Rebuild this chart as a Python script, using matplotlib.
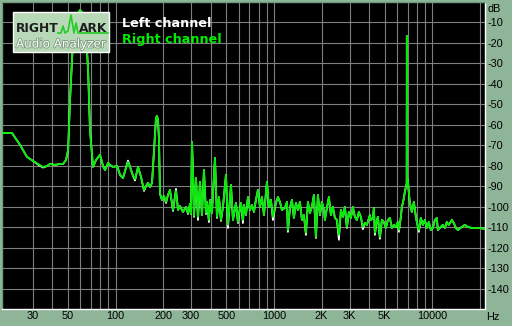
import matplotlib.pyplot as plt
from matplotlib.ticker import NullFormatter
from matplotlib.patches import Rectangle
import matplotlib.patheffects as pe

# spectrum (Hz, dB)
freq = [19.2, 22.2, 25.0, 27.6, 30.2, 32.4, 34.9, 37.0, 38.6, 41.5,
        44.7, 46.7, 48.7, 50.2, 51.6, 53.9, 56.3, 59.7, 62.4, 65.2,
        67.1, 69.0, 72.1, 75.3, 79.8, 83.4, 85.9, 89.7, 92.3, 96.4,
        102.2, 106.8, 111.5, 114.8, 119.9, 123.5, 129.0, 132.7, 138.7, 144.9,
        151.3, 155.8, 160.3, 165.1, 170.0, 175.0, 180.1, 182.7, 185.4, 188.1,
        190.9, 196.5, 202.3, 208.3, 214.4, 220.7, 230.6, 240.8, 248.0, 255.2,
        266.6, 278.5, 286.7, 295.1, 299.4, 303.8, 308.3, 312.8, 322.0, 331.5,
        341.3, 351.3, 361.7, 372.4, 377.8, 388.9, 394.6, 406.2, 424.4, 436.9,
        449.8, 463.0, 476.7, 497.9, 512.6, 535.4, 551.2, 575.8, 592.7, 610.2,
        619.1, 637.4, 646.7, 665.7, 685.5, 705.6, 726.4, 747.8, 769.8, 792.6,
        816.0, 840.0, 864.8, 890.2, 903.3, 930.0, 957.4, 985.6, 1029, 1060,
        1091, 1123, 1173, 1208, 1225, 1262, 1299, 1337, 1377, 1417,
        1459, 1502, 1546, 1592, 1639, 1687, 1737, 1788, 1841, 1895,
        1951, 2008, 2068, 2098, 2160, 2223, 2289, 2356, 2426, 2498,
        2571, 2647, 2725, 2805, 2888, 2973, 3061, 3151, 3243, 3340,
        3438, 3540, 3644, 3751, 3862, 4034, 4093, 4214, 4275, 4338,
        4466, 4532, 4665, 4803, 4944, 5089, 5239, 5395, 5553, 5717,
        5885, 6058, 6147, 6329, 6422, 6516, 6611, 6707, 6805, 6890,
        6905, 6920, 7006, 7108, 7212, 7426, 7534, 7645, 7870, 8101,
        8220, 8462, 8711, 8967, 9231, 9503, 9783, 10073, 10370, 10675,
        10831, 11150, 11648, 11993, 12346, 12710, 13273, 13664, 14070, 14485,
        15350, 16032, 16749, 17750, 18810, 19940, 21440]

right_db = [-64.0, -64.0, -69.9, -75.7, -77.7, -79.1, -80.6, -80.1, -79.1, -79.6,
            -79.1, -79.1, -77.2, -72.3, -47.9, -18.6, -7.8, -3.9, -5.9, -16.1,
            -33.2, -62.5, -80.6, -77.2, -74.7, -80.1, -82.1, -78.6, -79.6, -80.6,
            -80.1, -84.5, -86.0, -82.6, -78.2, -80.6, -85.0, -86.5, -80.6, -85.5,
            -91.8, -89.9, -88.4, -90.4, -88.4, -72.3, -56.7, -55.7, -57.6, -67.4,
            -93.3, -96.7, -94.8, -97.7, -94.3, -91.8, -101.6, -92.3, -101.6, -99.7,
            -102.6, -100.1, -103.1, -98.7, -103.6, -68.4, -82.1, -104.5, -86.0, -105.0,
            -87.9, -104.1, -82.1, -103.1, -97.7, -106.5, -96.7, -103.1, -76.2, -105.0,
            -95.3, -106.5, -100.1, -84.5, -108.9, -89.4, -106.5, -98.2, -107.5, -100.6,
            -98.2, -106.5, -99.2, -104.1, -95.3, -101.6, -99.2, -102.6, -96.7, -91.8,
            -100.1, -95.3, -104.1, -93.3, -87.9, -100.1, -96.7, -105.0, -98.2, -95.3,
            -97.7, -101.6, -100.6, -97.7, -111.4, -100.6, -96.7, -105.5, -98.2, -101.6,
            -97.7, -106.5, -104.1, -112.8, -97.7, -103.1, -100.1, -94.3, -114.8, -94.3,
            -104.1, -97.7, -101.6, -106.5, -100.6, -95.3, -104.1, -100.1, -105.5, -106.5,
            -113.8, -101.6, -105.0, -100.1, -109.9, -102.6, -105.5, -100.1, -105.0, -106.5,
            -102.6, -105.0, -109.9, -108.0, -108.9, -104.1, -106.5, -105.5, -100.6, -112.8,
            -106.5, -105.0, -114.8, -106.5, -107.5, -110.4, -106.5, -105.5, -110.4, -108.9,
            -109.9, -107.5, -111.4, -105.0, -100.1, -98.2, -95.7, -92.8, -90.4, -88.5,
            -16.6, -86.5, -87.0, -93.3, -98.2, -102.6, -100.1, -97.7, -105.0, -109.9,
            -111.4, -105.5, -108.9, -106.5, -110.4, -107.5, -111.4, -110.4, -106.5, -105.5,
            -111.4, -110.4, -108.9, -110.4, -107.5, -108.9, -106.5, -108.0, -110.4, -111.4,
            -109.9, -108.9, -109.9, -110.4, -110.4, -110.4, -110.9]

left_db = [-64.0, -64.0, -69.9, -75.7, -77.7, -79.4, -80.9, -80.1, -79.1, -79.6,
           -79.1, -79.1, -77.2, -72.3, -47.9, -18.6, -7.8, -3.9, -5.9, -16.1,
           -33.2, -62.5, -80.6, -77.2, -74.7, -80.1, -82.1, -78.6, -79.6, -80.6,
           -80.1, -84.5, -86.0, -82.6, -77.5, -80.6, -85.0, -87.2, -80.6, -85.5,
           -92.3, -89.9, -88.4, -90.4, -88.4, -72.3, -56.7, -55.7, -57.6, -67.4,
           -93.8, -96.7, -94.8, -98.2, -94.3, -91.8, -102.1, -91.3, -101.6, -99.7,
           -102.6, -100.1, -103.6, -98.7, -103.6, -68.4, -82.1, -105.0, -86.0, -106.5,
           -87.9, -104.1, -82.1, -103.6, -97.7, -107.5, -96.7, -103.1, -76.2, -105.5,
           -95.3, -107.0, -100.1, -84.5, -110.4, -89.4, -106.5, -98.2, -108.0, -100.6,
           -98.2, -108.0, -99.2, -104.1, -95.3, -101.6, -99.2, -102.6, -96.7, -91.8,
           -100.1, -95.3, -104.1, -93.3, -87.9, -100.1, -96.7, -106.5, -98.2, -95.3,
           -97.7, -101.6, -100.6, -97.7, -112.3, -100.6, -96.7, -105.5, -98.2, -101.6,
           -97.7, -106.5, -104.1, -113.8, -97.7, -103.1, -100.1, -94.3, -115.3, -94.3,
           -104.1, -97.7, -101.6, -106.5, -100.6, -95.3, -104.1, -100.1, -105.5, -106.5,
           -116.2, -101.6, -105.0, -100.1, -110.4, -102.6, -105.5, -100.1, -105.0, -106.5,
           -102.6, -105.0, -111.0, -108.0, -108.9, -104.1, -106.5, -105.5, -100.6, -113.8,
           -106.5, -105.0, -115.7, -106.5, -107.5, -110.4, -106.5, -105.5, -110.4, -108.9,
           -109.9, -107.5, -112.3, -105.0, -100.1, -98.2, -95.7, -92.8, -90.4, -88.5,
           -16.6, -86.5, -87.0, -93.3, -98.2, -102.6, -100.1, -97.7, -105.0, -109.9,
           -112.3, -105.5, -108.9, -106.5, -110.4, -107.5, -111.4, -110.4, -106.5, -105.5,
           -111.4, -110.4, -108.9, -110.4, -107.5, -108.9, -106.5, -108.0, -110.4, -111.4,
           -109.9, -108.9, -109.9, -110.4, -110.4, -110.4, -110.9]

x_ticks = [30, 50, 100, 200, 300, 500, 1000, 2000, 3000, 5000, 10000]
x_labels = ['30', '50', '100', '200', '300', '500', '1000', '2K', '3K', '5K', '10000']
x_grid = [30, 40, 50, 60, 70, 80, 90, 100, 200, 300, 400, 500, 600, 700, 800, 900,
          1000, 2000, 3000, 4000, 5000, 6000, 7000, 8000, 9000, 10000, 20000]
y_ticks = [-10, -20, -30, -40, -50, -60, -70, -80, -90, -100, -110, -120, -130, -140]

BG = '#8fb599'
GRID = '#7f7f7f'
GREEN = '#00ee00'

fig = plt.figure(figsize=(5.12, 3.26), dpi=100, facecolor=BG)
ax = fig.add_axes([2 / 512, 17 / 326, 483 / 512, 307 / 326])
ax.set_facecolor('black')

ax.plot(freq, left_db, color='white', lw=1.3, zorder=3)
ax.plot(freq, right_db, color=GREEN, lw=1.3, zorder=4)

ax.set_xscale('log')
ax.set_xlim(19.2, 21500)
ax.set_ylim(-150, 0)

ax.set_xticks(x_grid, minor=True)
ax.set_xticks(x_ticks)
ax.set_xticklabels(x_labels)
ax.xaxis.set_minor_formatter(NullFormatter())
ax.set_yticks(y_ticks)
ax.set_yticklabels([str(v) for v in y_ticks])
ax.yaxis.tick_right()
ax.tick_params(which='both', length=0)
ax.tick_params(axis='x', pad=1.5, labelsize=7.8)
ax.tick_params(axis='y', pad=1.5, labelsize=7.8)
for lab in ax.get_xticklabels() + ax.get_yticklabels():
    lab.set_fontfamily('Liberation Sans')
ax.grid(which='both', color=GRID, lw=0.8)
ax.set_axisbelow(True)

for side in ['top', 'left']:
    ax.spines[side].set_color('#6f9c7b')
for side in ['right', 'bottom']:
    ax.spines[side].set_color('white')
for s in ax.spines.values():
    s.set_linewidth(1.0)

# overlay in pixel coordinates for logo and legend text
ov = fig.add_axes([0, 0, 1, 1], facecolor='none')
ov.set_xlim(0, 512)
ov.set_ylim(326, 0)
ov.axis('off')

ov.add_patch(Rectangle((13, 12), 96, 40, fc='#b8d9b8', ec='white', lw=1.0))
ov.plot([58, 61, 63, 65, 68, 71, 74, 76, 78, 80, 108],
        [33, 33, 26, 33, 31, 15, 33, 23, 33, 33, 33], color='#22cc22', lw=1.2)
ov.text(16, 32, 'RIGHT', fontsize=8.8, fontweight='bold', color='#1e1e1e', va='baseline')
ov.text(79, 32, 'ARK', fontsize=8.8, fontweight='bold', color='#1e1e1e', va='baseline')
ov.text(16, 47.5, 'Audio Analyzer', fontsize=8.6, color='white', va='baseline',
        path_effects=[pe.withStroke(linewidth=1.2, foreground='#7a9a7a')])

ov.text(122, 27, 'Left channel', fontsize=9.2, fontweight='bold', color='white', va='baseline')
ov.text(122, 43, 'Right channel', fontsize=9.2, fontweight='bold', color=GREEN, va='baseline')

ov.text(487, 12, 'dB', fontsize=7.8, family='Liberation Sans', color='black', va='baseline')
ov.text(486, 320, 'Hz', fontsize=7.8, family='Liberation Sans', color='black', va='baseline')

fig.savefig('out.png', dpi=100, facecolor=BG)
